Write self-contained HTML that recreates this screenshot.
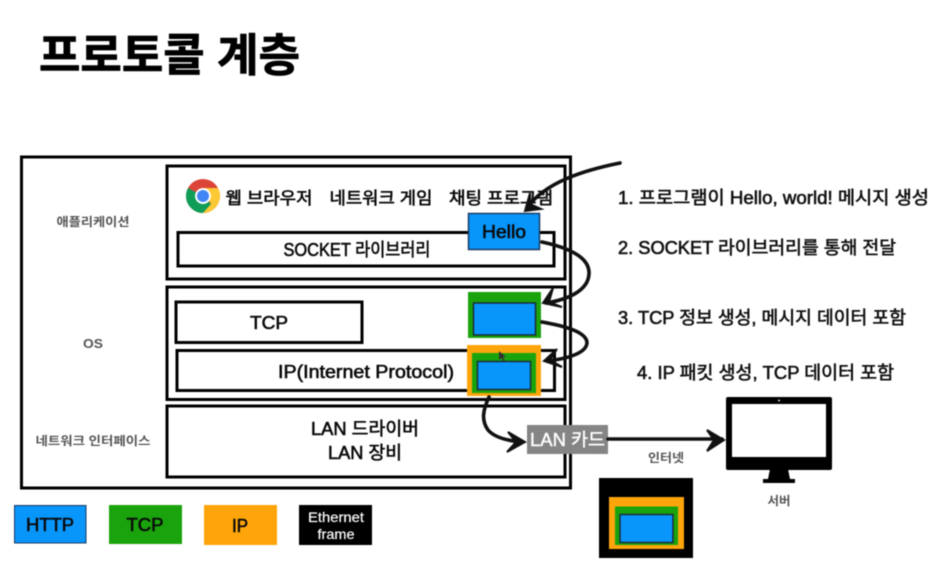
<!DOCTYPE html>
<html lang="ko"><head><meta charset="utf-8"><style>
html,body{margin:0;padding:0;background:#fff}
svg{display:block;filter:blur(.4px)}
text{font-family:"Liberation Sans","Noto Sans CJK KR",sans-serif;white-space:pre}
.m{fill:#111;font-size:18px;stroke:#111;stroke-width:.6px}
.g{fill:#555;font-size:12px;font-weight:700;text-anchor:middle}
.b{fill:none;stroke:#000;stroke-width:3}
.a{fill:none;stroke:#111;stroke-width:3.6;stroke-linecap:round;stroke-linejoin:miter}
.h{fill:#111;stroke:#111;stroke-width:2;stroke-linejoin:miter}
.l{fill:#0a0a0a;font-size:18px;text-anchor:middle;stroke:#0a0a0a;stroke-width:.6px}
</style></head><body>
<svg width="940" height="561" viewBox="0 0 940 561" xmlns="http://www.w3.org/2000/svg">
<rect width="940" height="561" fill="#fff"/>
<text x="39" y="71" font-size="45" font-weight="700" fill="#000" stroke="#000" stroke-width=".8" textLength="261" lengthAdjust="spacingAndGlyphs">프로토콜 계층</text>

<rect class="b" x="21.500" y="157" width="549" height="331"/>
<rect class="b" x="167" y="166" width="398" height="113"/>
<rect class="b" x="178" y="232.500" width="376" height="33.500"/>
<rect class="b" x="167" y="287" width="398" height="112.500"/>
<rect class="b" x="176" y="302" width="186" height="40.500"/>
<rect class="b" x="177" y="350.500" width="377.500" height="40"/>
<rect class="b" x="167" y="406" width="398" height="71"/>

<text class="g" x="93" y="226" textLength="73" lengthAdjust="spacingAndGlyphs">애플리케이션</text>
<text class="g" x="93" y="348" style="font-size:13px" textLength="20" lengthAdjust="spacingAndGlyphs">OS</text>
<text class="g" x="93" y="445" textLength="115" lengthAdjust="spacingAndGlyphs">네트워크 인터페이스</text>

<!-- chrome -->
<circle cx="203" cy="196" r="17" fill="#db4437"/>
<path d="M188 188 A17 17 0 0 0 203 213 L211 204 L203 196 Z" fill="#0f9d58"/>
<path d="M218 188 H203 L211 204 L203 213 A17 17 0 0 0 218 188 Z" fill="#fcc934"/>
<circle cx="203" cy="196" r="8" fill="#fff"/>
<circle cx="203" cy="196" r="6" fill="#4285f4"/>

<text class="l" x="269" y="204" style="font-size:17px" textLength="87" lengthAdjust="spacingAndGlyphs">웹 브라우저</text>
<text class="l" x="381" y="204" style="font-size:17px" textLength="103" lengthAdjust="spacingAndGlyphs">네트워크 게임</text>
<text class="l" x="501" y="204" style="font-size:17px" textLength="104" lengthAdjust="spacingAndGlyphs">채팅 프로그램</text>
<text class="l" x="357" y="256" style="font-size:18px" textLength="147" lengthAdjust="spacingAndGlyphs">SOCKET 라이브러리</text>
<text class="l" x="269" y="329" textLength="38" lengthAdjust="spacingAndGlyphs">TCP</text>
<text class="l" x="366" y="378" textLength="176" lengthAdjust="spacingAndGlyphs">IP(Internet Protocol)</text>
<text class="l" x="365" y="435" textLength="108" lengthAdjust="spacingAndGlyphs">LAN 드라이버</text>
<text class="l" x="365" y="459" textLength="74" lengthAdjust="spacingAndGlyphs">LAN 장비</text>

<!-- packets -->
<rect x="468.500" y="213.500" width="71" height="36" fill="#0896fb" stroke="#1c3a66" stroke-width="1.500"/>
<text x="504" y="238" text-anchor="middle" style="font-size:18px;stroke:#0a0a0a;stroke-width:.6px" fill="#0a0a0a" textLength="44" lengthAdjust="spacingAndGlyphs">Hello</text>

<rect x="468" y="292" width="73" height="46" fill="#1aa30c"/>
<rect x="473.500" y="303" width="62" height="32" fill="#0896fb" stroke="#1b2b3a" stroke-width="1.500"/>

<rect x="467" y="345" width="74" height="51" fill="#fea50c"/>
<rect x="472" y="353" width="64" height="40" fill="#1aa30c"/>
<rect x="477.500" y="361.500" width="53" height="28" fill="#0896fb" stroke="#1b2b3a" stroke-width="1.500"/>
<path d="M499 351 l0 9 l2.500 -2 l2.500 4 l1 -1 l-2 -4 l3 0 Z" fill="#333"/>

<rect x="527" y="425" width="81" height="29" fill="#858585"/>
<text x="567.500" y="446" text-anchor="middle" fill="#fff" stroke="#fff" stroke-width=".4" style="font-size:18px" textLength="75" lengthAdjust="spacingAndGlyphs">LAN 카드</text>

<!-- arrows -->
<path class="a" d="M620 163 C585 170 545 182 527 208"/>
<path class="h" d="M530 193 L525 211 L541 209 L530 204 Z"/>
<path class="a" d="M542 242 C570 248 590 258 589 274 C588 292 565 300 546 303"/>
<path class="h" d="M553 288 L543 303 L562 307 L549 302 Z"/>
<path class="a" d="M542 322 C565 326 587 332 587 343 C586 354 565 359 547 361"/>
<path class="h" d="M557 349 L544 361 L562 367 L550 360 Z"/>
<path class="a" d="M489 397 C483 410 481 420 488 430 C495 438 510 441 522 442"/>
<path class="h" d="M508 432 L525 442 L507 452 L516 442 Z"/>
<path class="a" d="M608 439 H722"/>
<path class="h" d="M707 430 L724 440 L707 451 L714 440 Z"/>

<text class="g" x="666" y="462" style="font-size:12px" textLength="36" lengthAdjust="spacingAndGlyphs">인터넷</text>

<!-- monitor -->
<rect x="726" y="397" width="106" height="73" rx="2" fill="#000"/>
<rect x="732" y="404" width="94" height="53" fill="#fff"/>
<circle cx="779" cy="400.500" r="1" fill="#ddd"/>
<path d="M770 469 H788 L790 479 H795 V483 H763 V479 H768 Z" fill="#000"/>
<text class="g" x="779" y="505" textLength="23" lengthAdjust="spacingAndGlyphs">서버</text>

<!-- frame -->
<rect x="599" y="478" width="94" height="80" fill="#000"/>
<rect x="609" y="497" width="75" height="52" fill="#fea50c"/>
<rect x="615" y="506.500" width="63" height="38.500" fill="#1aa30c"/>
<rect x="620" y="514.500" width="53" height="28" fill="#0896fb" stroke="#1b2b3a" stroke-width="1.500"/>

<!-- legend -->
<rect x="14.500" y="505.500" width="71.500" height="37.500" fill="#0896fb" stroke="#1c3a66" stroke-width="1"/>
<text class="l" x="50" y="531" textLength="48" lengthAdjust="spacingAndGlyphs">HTTP</text>
<rect x="109" y="505" width="73" height="39" fill="#1aa30c"/>
<text class="l" x="145" y="531" textLength="37" lengthAdjust="spacingAndGlyphs">TCP</text>
<rect x="204" y="505" width="73" height="40" fill="#fea50c"/>
<text class="l" x="240" y="532" textLength="16" lengthAdjust="spacingAndGlyphs">IP</text>
<rect x="299" y="505" width="73" height="40" fill="#000"/>
<text x="336" y="522" text-anchor="middle" fill="#fff" stroke="#fff" stroke-width=".2" style="font-size:14px" textLength="56" lengthAdjust="spacingAndGlyphs">Ethernet</text>
<text x="336" y="539" text-anchor="middle" fill="#fff" stroke="#fff" stroke-width=".2" style="font-size:14px" textLength="37" lengthAdjust="spacingAndGlyphs">frame</text>

<!-- steps -->
<text class="m" x="618" y="204" textLength="311" lengthAdjust="spacingAndGlyphs">1. 프로그램이 Hello, world! 메시지 생성</text>
<text class="m" x="618" y="254" textLength="278" lengthAdjust="spacingAndGlyphs">2. SOCKET 라이브러리를 통해 전달</text>
<text class="m" x="618" y="324" textLength="288" lengthAdjust="spacingAndGlyphs">3. TCP 정보 생성, 메시지 데이터 포함</text>
<text class="m" x="637" y="379" textLength="257" lengthAdjust="spacingAndGlyphs">4. IP 패킷 생성, TCP 데이터 포함</text>
</svg>
</body></html>
